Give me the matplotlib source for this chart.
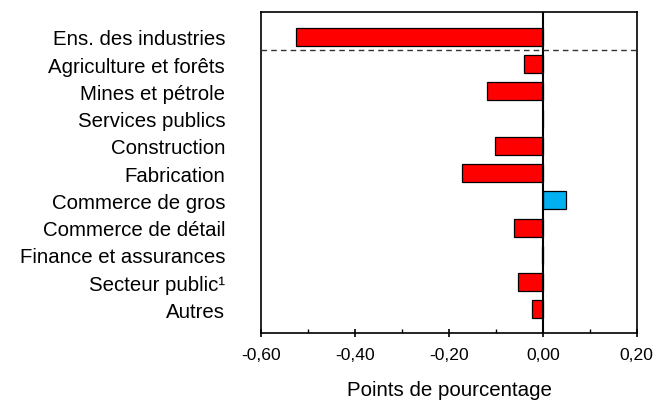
import matplotlib
matplotlib.use("Agg")
import matplotlib.pyplot as plt
from matplotlib.ticker import MultipleLocator, FuncFormatter

categories = ["Ens. des industries", "Agriculture et forêts", "Mines et pétrole",
              "Services publics", "Construction", "Fabrication", "Commerce de gros",
              "Commerce de détail", "Finance et assurances", "Secteur public\u00b9", "Autres"]
values = [-0.526, -0.040, -0.119, 0.0, -0.103, -0.173, 0.049, -0.061, -0.002, -0.054, -0.024]

plt.rcParams["font.family"] = ["Liberation Sans", "DejaVu Sans"]

fig = plt.figure(figsize=(6.67, 4.02), dpi=100)
ax = fig.add_axes([0.3918, 0.1692, 0.5628, 0.7992])

colors = ["#00B0F0" if v > 0 else "#FF0000" for v in values]
ypos = list(range(len(categories)))
ax.barh(ypos, values, height=0.66, color=colors, edgecolor="black", linewidth=0.9, zorder=2)

ax.axvline(0, color="black", lw=1.5, zorder=3)
ax.axhline(0.5, color="#333333", lw=1.0, ls=(0, (4, 3)), zorder=3)

ax.set_xlim(-0.6, 0.2)
ax.set_ylim(10.87, -0.92)
ax.set_yticks(ypos)
ax.set_yticklabels(categories, fontsize=14.7)
ax.tick_params(axis="y", length=0, pad=26)

ax.xaxis.set_major_locator(MultipleLocator(0.2))
ax.xaxis.set_minor_locator(MultipleLocator(0.1))
ax.xaxis.set_major_formatter(FuncFormatter(lambda v, p: f"{v:.2f}".replace(".", ",").replace("-0,00", "0,00")))
ax.tick_params(axis="x", which="major", direction="inout", length=6, width=1.2, labelsize=12.6, pad=7)
ax.tick_params(axis="x", which="minor", direction="in", length=3, width=1.0)
ax.set_xlabel("Points de pourcentage", fontsize=14.8, labelpad=13)

for s in ax.spines.values():
    s.set_linewidth(1.2)

fig.savefig("out.png", dpi=100)
